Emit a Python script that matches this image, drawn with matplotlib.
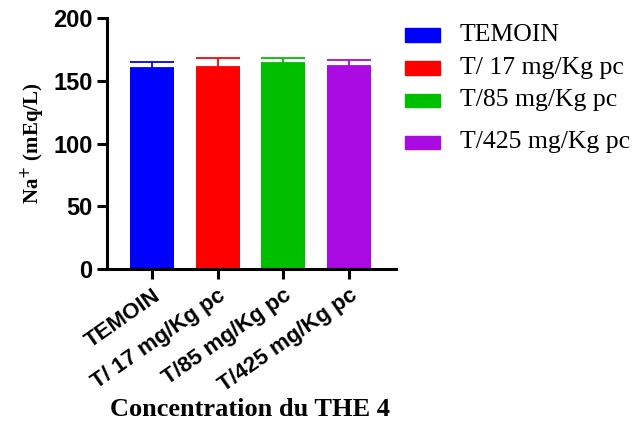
import matplotlib
matplotlib.use("Agg")
import matplotlib.pyplot as plt
from matplotlib.patches import Rectangle

# Plasma sodium by treatment group
groups = ["TEMOIN", "T/ 17 mg/Kg pc", "T/85 mg/Kg pc", "T/425 mg/Kg pc"]
sodium = [160, 161, 164, 162]
sem = [5, 7, 4, 4.5]
colors = ["#0000FF", "#FF0000", "#00BF00", "#AA0BE2"]

SANS = "Liberation Sans"
SERIF = "Liberation Serif"

fig = plt.figure(figsize=(6.41, 4.37), dpi=100)
ax = fig.add_axes([0.1669, 0.3844, 0.4509, 0.5744])

x = list(range(len(groups)))
ax.bar(x, sodium, width=0.67, color=colors, zorder=2)
for xi, v, e, c in zip(x, sodium, sem, colors):
    ax.errorbar(xi, v, yerr=[[0], [e]], fmt="none", ecolor=c,
                elinewidth=1.3, capsize=16, capthick=1.3, zorder=1)

ax.set_xlim(-0.685, 3.715)
ax.set_ylim(0, 200)
ax.set_yticks([0, 50, 100, 150, 200])
ax.set_xticks(x)

for side in ("top", "right"):
    ax.spines[side].set_visible(False)
for side in ("left", "bottom"):
    ax.spines[side].set_linewidth(2.2)

ax.tick_params(axis="both", width=2.2, length=7.5, color="black")
ax.tick_params(axis="y", pad=3)
for lbl in ax.get_yticklabels():
    lbl.set_fontfamily(SANS)
    lbl.set_fontweight("bold")
    lbl.set_fontsize(17)

ax.set_xticklabels(groups, rotation=35, ha="right", va="top",
                   rotation_mode="anchor", fontfamily=SANS,
                   fontweight="bold", fontsize=16)
ax.tick_params(axis="x", pad=4)

ax.set_ylabel("Na$^{+}$ (mEq/L)", fontfamily=SERIF, fontweight="bold",
              fontsize=15, labelpad=4)
fig.text(0.39, 0.063, "Concentration du THE 4", fontfamily=SERIF,
         fontweight="bold", fontsize=19, ha="center", va="center")

# Legend entries
legend_y = [35, 68, 100, 142]
W, H = 641.0, 437.0
for yc, c, name in zip(legend_y, colors, groups):
    fig.patches.append(Rectangle((405 / W, 1 - (yc + 6.5) / H), 35 / W, 13 / H,
                                 transform=fig.transFigure, color=c))
    fig.text(460 / W, 1 - yc / H, name, fontfamily=SERIF, fontsize=18.5,
             ha="left", va="center")

fig.savefig("out.png", dpi=100)
